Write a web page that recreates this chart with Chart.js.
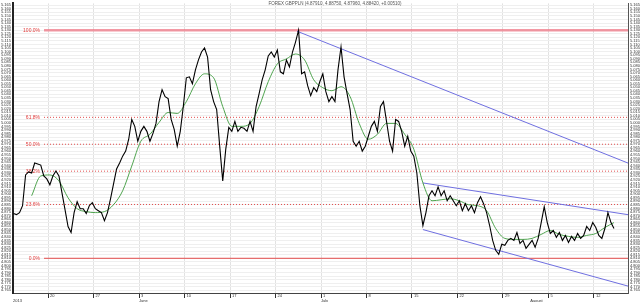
<!DOCTYPE html>
<html><head><meta charset="utf-8">
<script src="https://cdn.jsdelivr.net/npm/chart.js@4.4.1/dist/chart.umd.min.js"></script>
<style>html,body{margin:0;padding:0;background:#fff;}canvas{display:block;}</style>
</head><body>
<canvas id="c" width="640" height="302"></canvas>
<script>
// ---- data (x = trading-day offset from Mon 20 May 2013, 3 bars per day) ----
const titleText = 'FOREX GBPPLN (4.87910, 4.88750, 4.87960, 4.88420, +0.00510)';
const firstDay = -3.8;
const barsPerDay = 3;
const closes = [
4.8727,4.8713,4.8741,4.8838,4.9269,4.9311,4.9297,4.9436,4.9422,4.9408,
4.9255,4.9214,4.9130,4.9255,4.9325,4.9255,4.9019,4.8782,4.8546,4.8462,
4.8741,4.8894,4.8796,4.8796,4.8727,4.8838,4.8880,4.8796,4.8768,4.8741,
4.8629,4.8741,4.8935,4.9144,4.9353,4.9436,4.9533,4.9603,4.9770,5.0048,
4.9951,4.9742,4.9881,4.9951,4.9881,4.9742,4.9853,4.9992,5.0298,5.0465,
5.0368,5.0340,5.0048,4.9909,4.9673,4.9881,5.0229,5.0632,5.0646,5.0549,
5.0744,5.0883,5.0994,5.1050,5.0924,5.0465,5.0298,5.0187,4.9673,4.9186,
4.9631,4.9937,4.9881,5.0020,4.9881,4.9937,4.9923,4.9881,5.0020,4.9881,
5.0229,5.0410,5.0604,5.0744,5.0938,5.0994,5.0924,5.1022,5.0716,5.0688,
5.0883,5.0785,5.0994,5.1133,5.1300,5.0688,5.0716,5.0521,5.0382,5.0493,
5.0438,5.0577,5.0688,5.0438,5.0298,5.0368,5.0298,5.0744,5.1064,5.0646,
5.0410,5.0187,4.9742,4.9673,4.9742,4.9603,4.9673,4.9812,4.9951,5.0020,
4.9881,5.0229,5.0298,5.0020,4.9742,4.9603,5.0048,5.0020,4.9881,4.9673,
4.9812,4.9603,4.9533,4.9297,4.8838,4.8560,4.8741,4.8977,4.9047,4.8977,
4.9102,4.8977,4.9047,4.8907,4.8977,4.8907,4.8838,4.8907,4.8768,4.8866,
4.8768,4.8838,4.8741,4.8880,4.8963,4.8866,4.8741,4.8560,4.8351,4.8212,
4.8156,4.8296,4.8282,4.8351,4.8379,4.8351,4.8462,4.8309,4.8351,4.8240,
4.8296,4.8351,4.8254,4.8379,4.8601,4.8824,4.8601,4.8448,4.8490,4.8393,
4.8462,4.8351,4.8421,4.8323,4.8407,4.8351,4.8448,4.8379,4.8421,4.8546,
4.8490,4.8601,4.8532,4.8421,4.8379,4.8518,4.8741,4.8601,4.8518
];
const maStartDay = -1.8;
const maValues = [
4.8977,4.9255,4.9269,4.9186,4.8949,4.8796,4.8755,4.8741,4.8755,4.8852,
4.9047,4.9394,4.9742,4.9839,5.0006,5.0145,5.0132,5.0298,5.0549,5.0688,
5.0632,5.0229,4.9951,4.9951,4.9992,5.0229,5.0577,5.0827,5.0897,5.0966,
5.0883,5.0604,5.0493,5.0451,5.0507,5.0368,4.9992,4.9770,4.9839,4.9992,
4.9992,4.9839,4.9631,4.9158,4.8907,4.8921,4.8935,4.8907,4.8852,4.8838,
4.8768,4.8518,4.8379,4.8365,4.8365,4.8379,4.8435,4.8490,4.8435,4.8407,
4.8393,4.8421,4.8448,4.8532,4.8601
];
const fibHigh = 5.13;
const fibLow = 4.81;
const fibRatios = [1, 0.618, 0.5, 0.382, 0.236, 0];
const fibLabels = ['100.0%', '61.8%', '50.0%', '38.2%', '23.6%', '0.0%'];
const fibStartDay = -0.44;
const weekTickDays = [0, 5, 10, 15, 20, 25, 30, 35, 40, 45, 50, 55, 60];
const weekTickLabels = ['20', '27', '3', '10', '17', '24', '1', '8', '15', '22', '29', '5', '12'];
const monthTickDays = [-3.85, 10, 30, 53];
const monthTickLabels = ['2013', 'June', 'July', 'August'];
const trendStartDays = [27.36, 41.2, 41.2];
const trendStartValues = [5.1286, 4.9157, 4.8503];
const trendEndDays = [63.74, 63.74, 63.74];
const trendEndValues = [4.9436, 4.8712, 4.7710];
const xMin = -3.85, xMax = 63.74;
const yMin = 4.7613, yMax = 5.1676, yStep = 0.005;

// ---- build datasets ----
const pricePts = closes.map((v, i) => ({x: firstDay + i / barsPerDay, y: v}));
const maPts = maValues.map((v, j) => ({x: maStartDay + j, y: v}));
const fibLevels = fibRatios.map(r => fibLow + r * (fibHigh - fibLow));

const datasets = [];
datasets.push({data: pricePts, borderColor: '#000', borderWidth: 1.1, order: 0, yAxisID: 'y'});
datasets.push({data: maPts, borderColor: '#3c9a3c', borderWidth: 0.9, order: 1, cubicInterpolationMode: 'monotone', yAxisID: 'y'});
for (let k = 0; k < trendStartDays.length; k++) {
  datasets.push({data: [{x: trendStartDays[k], y: trendStartValues[k]}, {x: trendEndDays[k], y: trendEndValues[k]}],
    borderColor: '#6f6fe0', borderWidth: 1, order: 2, yAxisID: 'y'});
}
fibLevels.forEach((lv, k) => {
  const solid = (fibRatios[k] === 1 || fibRatios[k] === 0);
  datasets.push({data: [{x: fibStartDay, y: lv}, {x: xMax, y: lv}],
    borderColor: fibRatios[k] === 1 ? 'rgba(238,110,125,0.7)' : '#e24a4a',
    borderWidth: fibRatios[k] === 1 ? 2.5 : 1,
    borderDash: solid ? [] : [1, 2], order: 3, yAxisID: 'y'});
});

const yTickValues = [];
for (let v = Math.ceil(yMin / yStep) * yStep; v <= yMax + 1e-9; v += yStep) yTickValues.push(+v.toFixed(3));

const labelsPlugin = {
  id: 'labels',
  beforeDatasetsDraw(chart) {
    const ctx = chart.ctx, ys = chart.scales.y, xs = chart.scales.x;
    ctx.save();
    ctx.font = '5px "Liberation Sans", Arial, sans-serif';
    ctx.fillStyle = '#e23a3a';
    ctx.textAlign = 'right';
    ctx.textBaseline = 'middle';
    fibLevels.forEach((lv, k) => {
      ctx.fillText(fibLabels[k], xs.getPixelForValue(fibStartDay) - 4, ys.getPixelForValue(lv));
    });
    ctx.restore();
  },
  afterDraw(chart) {
    const ctx = chart.ctx;
    ctx.save();
    ctx.font = '4.5px "Liberation Sans", Arial, sans-serif';
    ctx.fillStyle = '#555';
    ctx.textAlign = 'center';
    ctx.textBaseline = 'middle';
    ctx.fillText(titleText, 335, 4);
    ctx.restore();
  }
};

const tinyFont = {family: '"Liberation Sans", Arial, sans-serif', size: 4};

new Chart(document.getElementById('c'), {
  type: 'line',
  data: {datasets},
  options: {
    responsive: false, animation: false, devicePixelRatio: 1,
    layout: {padding: {top: 1, left: 0, right: 0, bottom: 0}},
    elements: {point: {radius: 0}, line: {tension: 0}},
    plugins: {legend: {display: false}, tooltip: {enabled: false}},
    scales: {
      x: {
        type: 'linear', position: 'bottom', min: xMin, max: xMax, weight: 0,
        afterBuildTicks: s => { s.ticks = weekTickDays.map(v => ({value: v})); },
        afterFit: s => { s.height = 5; },
        ticks: {autoSkip: false, maxRotation: 0, font: tinyFont, color: '#333', align: 'start', labelOffset: 2, padding: -5,
          callback: (v) => weekTickLabels[weekTickDays.indexOf(v)]},
        grid: {color: '#e2e2e2', borderDash: [1, 3], tickColor: '#333', tickBorderDash: [], tickLength: 5, lineWidth: 1},
        border: {display: true, color: '#444'}
      },
      x2: {
        type: 'linear', position: 'bottom', min: xMin, max: xMax, weight: 1,
        afterBuildTicks: s => { s.ticks = monthTickDays.map(v => ({value: v})); },
        afterFit: s => { s.height = 4; },
        ticks: {autoSkip: false, maxRotation: 0, font: tinyFont, color: '#333', align: 'start', padding: 0,
          callback: (v) => monthTickLabels[monthTickDays.indexOf(v)]},
        grid: {display: false, drawTicks: false},
        border: {display: false}
      },
      y: {
        type: 'linear', position: 'left', min: yMin, max: yMax,
        afterBuildTicks: s => { s.ticks = yTickValues.map(v => ({value: v})); },
        afterFit: s => { s.width = 13; },
        ticks: {autoSkip: false, font: tinyFont, color: '#333', padding: 1, callback: v => v.toFixed(3)},
        grid: {color: '#efefef', borderDash: [1, 3], tickLength: 1, tickColor: '#333', tickBorderDash: []},
        border: {display: true, color: '#222', width: 2}
      },
      y2: {
        type: 'linear', position: 'right', min: yMin, max: yMax,
        afterBuildTicks: s => { s.ticks = yTickValues.map(v => ({value: v})); },
        afterFit: s => { s.width = 12; },
        ticks: {autoSkip: false, font: tinyFont, color: '#333', padding: 1, callback: v => v.toFixed(3)},
        grid: {drawOnChartArea: false, tickLength: 1, tickColor: '#333'},
        border: {display: true, color: '#555', width: 1}
      }
    }
  },
  plugins: [labelsPlugin]
});
</script>
</body></html>
